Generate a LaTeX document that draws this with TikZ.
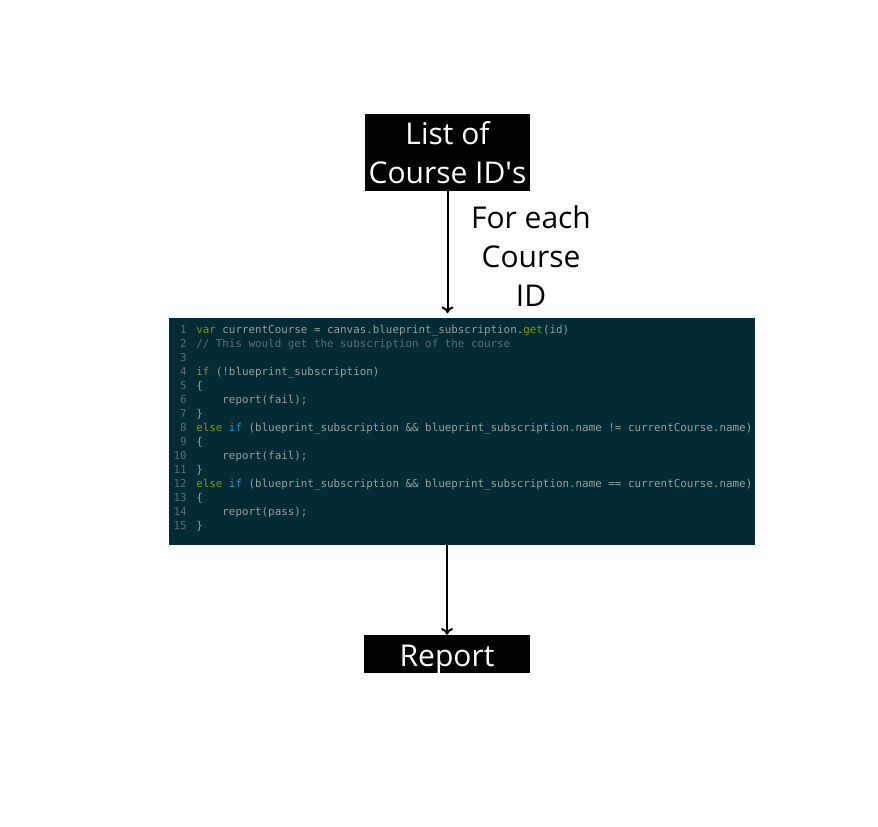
\documentclass[tikz,border=0pt]{standalone}
\usepackage{fontspec}
\setmainfont{Open Sans}
\setmonofont{DejaVu Sans Mono}
\usetikzlibrary{arrows.meta}

\definecolor{codebg}{HTML}{022B36}
\definecolor{codefg}{HTML}{93A1A1}
\definecolor{codekw}{HTML}{859900}
\definecolor{codeblue}{HTML}{268BD2}
\definecolor{codecmt}{HTML}{586E75}

\newcommand{\kw}[1]{\textcolor{codekw}{#1}}
\newcommand{\kwb}[1]{\textcolor{codeblue}{#1}}
\newcommand{\cmt}[1]{\textcolor{codecmt}{#1}}
\newcommand{\ind}{\phantom{xxxx}}

\tikzset{
  blackbox/.style={fill=black, text=white, inner sep=0pt, align=center,
    font=\fontsize{22.5}{29.3}\selectfont},
  codebox/.style={fill=codebg, inner sep=0pt, minimum width=586*0.75pt, minimum height=227*0.75pt},
  lineno/.style={anchor=base east, inner sep=0pt, text=codecmt, font=\ttfamily\fontsize{8.15}{10}\selectfont},
  codeline/.style={anchor=base west, inner sep=0pt, text=codefg, font=\ttfamily\fontsize{8.15}{10}\selectfont},
  flow/.style={-{To[length=5pt,width=9pt]}, line width=1.5pt}
}

\begin{document}
\begin{tikzpicture}[x=0.75pt, y=-0.75pt]
  \useasboundingbox (0,0) rectangle (878,826);

  \node[blackbox, minimum width=165*0.75pt, minimum height=77*0.75pt] (courses) at (447.5,152.5) {List of\\Course ID\textquotesingle s};
  \node[codebox] (code) at (462,431.5) {};
  \node[blackbox, minimum width=166*0.75pt, minimum height=38*0.75pt, text height=18pt, text depth=0pt] (report) at (447,654) {Report};

  \draw[flow, shorten >=3.5pt] (courses.south) -- (courses.south |- code.north);
  \draw[flow] (code.south -| report.north) -- (report.north);

  \node[align=center, font=\fontsize{22.5}{29.3}\selectfont] (foreach) at (531,256) {For each\\Course\\ID};

  % code lines
  \foreach \n in {1,...,15}
    \node[lineno] (n\n) at (187,333+14.07*\n-14.07) {\n};

  \node[codeline] (c1) at (196,333) {\kw{var} currentCourse = canvas.blueprint\_subscription.\kw{get}(id)};
  \node[codeline] (c2) at (196,347.07) {\cmt{// This would get the subscription of the course}};
  \node[codeline] (c4) at (196,375.21) {\kw{if} (!blueprint\_subscription)};
  \node[codeline] (c5) at (196,389.28) {\{};
  \node[codeline] (c6) at (196,403.35) {\ind report(fail);};
  \node[codeline] (c7) at (196,417.42) {\}};
  \node[codeline] (c8) at (196,431.49) {\kw{else} \kwb{if} (blueprint\_subscription \&\& blueprint\_subscription.name != currentCourse.name)};
  \node[codeline] (c9) at (196,445.56) {\{};
  \node[codeline] (c10) at (196,459.63) {\ind report(fail);};
  \node[codeline] (c11) at (196,473.70) {\}};
  \node[codeline] (c12) at (196,487.77) {\kw{else} \kwb{if} (blueprint\_subscription \&\& blueprint\_subscription.name == currentCourse.name)};
  \node[codeline] (c13) at (196,501.84) {\{};
  \node[codeline] (c14) at (196,515.91) {\ind report(pass);};
  \node[codeline] (c15) at (196,529.98) {\}};
\end{tikzpicture}
\end{document}
